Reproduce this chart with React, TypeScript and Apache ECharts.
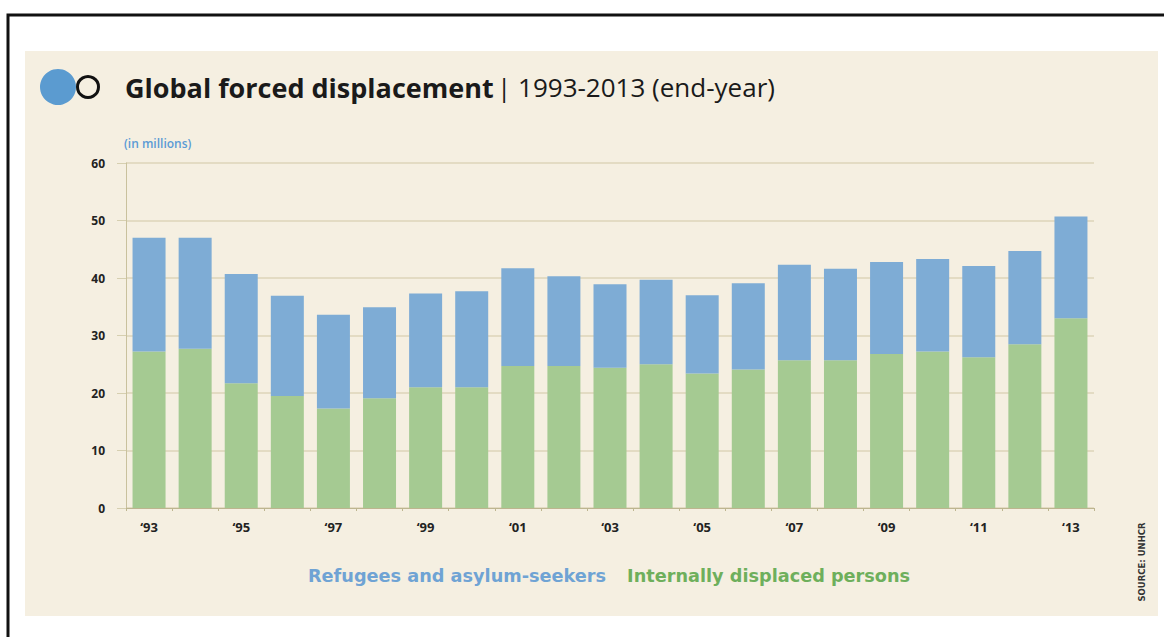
import React, { useEffect, useRef } from "react";
import * as echarts from "echarts";

const years = ["‘93", "‘94", "‘95", "‘96", "‘97", "‘98", "‘99", "‘00", "‘01", "‘02", "‘03", "‘04", "‘05", "‘06", "‘07", "‘08", "‘09", "‘10", "‘11", "‘12", "‘13"];
const idps = [27.2, 27.7, 21.7, 19.5, 17.3, 19.1, 21.0, 21.0, 24.7, 24.7, 24.4, 25.0, 23.4, 24.1, 25.7, 25.7, 26.8, 27.2, 26.2, 28.5, 33.0];
const refugees = [19.8, 19.3, 19.0, 17.4, 16.3, 15.8, 16.3, 16.7, 17.0, 15.6, 14.5, 14.7, 13.6, 15.0, 16.6, 15.9, 16.0, 16.1, 15.9, 16.2, 17.7];
const yTicks = { min: 0, max: 60, interval: 10 };

const BLUE = "#7eacd5";
const GREEN = "#a5ca92";
const FONT = "'Open Sans', 'Noto Sans', sans-serif";
const WIDE = "'DejaVu Sans', sans-serif";

export default function App() {
  const ref = useRef<HTMLDivElement>(null);
  useEffect(() => {
    if (!ref.current) return;
    const chart = echarts.init(ref.current, null, { renderer: "svg" });
    chart.setOption({
      animation: false,
      backgroundColor: "#ffffff",
      graphic: [
        { type: "rect", shape: { x: 8, y: 15, width: 1164, height: 640 }, style: { fill: "#ffffff", stroke: "#111", lineWidth: 3 }, z: -10 },
        { type: "rect", shape: { x: 25, y: 51, width: 1133, height: 565 }, style: { fill: "#f5efe1" }, z: -9 },
        { type: "circle", shape: { cx: 88, cy: 87, r: 10.5 }, style: { fill: "none", stroke: "#111", lineWidth: 3 }, z: 5 },
        { type: "circle", shape: { cx: 58, cy: 87, r: 18 }, style: { fill: "#5b9bd0" }, z: 6 },
        {
          type: "text", x: 125, y: 87, z: 5,
          style: {
            text: "{b|Global forced displacement} {r|| 1993-2013 (end-year)}",
            verticalAlign: "middle",
            rich: {
              b: { fontFamily: FONT, fontWeight: "bold", fontSize: 27, fill: "#1a1a1a" },
              r: { fontFamily: FONT, fontWeight: "normal", fontSize: 26, fill: "#1a1a1a" },
            },
          },
        },
        { type: "text", x: 124, y: 143, z: 5, style: { text: "(in millions)", fontFamily: FONT, fontWeight: 600, fontSize: 12, fill: "#5b9bd5", verticalAlign: "middle" } },
        {
          type: "text", x: 1142, y: 562, rotation: Math.PI / 2, z: 5,
          style: { text: "SOURCE: UNHCR", fontFamily: WIDE, fontWeight: "bold", fontSize: 8.5, fill: "#333", align: "center", verticalAlign: "middle" },
        },
      ],
      legend: {
        left: 298,
        top: 562,
        icon: "rect",
        itemWidth: 0,
        itemHeight: 0,
        itemGap: 16,
        selectedMode: false,
        data: [
          { name: "Refugees and asylum-seekers", textStyle: { color: "#6fa3d4" } },
          { name: "Internally displaced persons", textStyle: { color: "#6eaf5c" } },
        ],
        textStyle: { fontFamily: WIDE, fontWeight: "bold", fontSize: 17.7 },
      },
      grid: { left: 126, right: 70, top: 163, bottom: 129, containLabel: false },
      xAxis: {
        type: "category",
        data: years,
        axisLine: { lineStyle: { color: "#bdb58f", width: 1 } },
        axisTick: { show: true, length: 3, interval: 0, lineStyle: { color: "#bdb58f" } },
        axisLabel: { interval: 1, margin: 12, fontFamily: FONT, fontWeight: "bold", fontSize: 13, color: "#222" },
      },
      yAxis: {
        type: "value",
        min: yTicks.min,
        max: yTicks.max,
        interval: yTicks.interval,
        axisLine: { show: true, lineStyle: { color: "#c9c19d", width: 1 } },
        axisTick: { show: true, inside: false, length: 9, lineStyle: { color: "#d6cfb0" } },
        splitLine: { show: true, lineStyle: { color: "#dcd5b8", width: 1.5 } },
        axisLabel: { margin: 21, fontFamily: FONT, fontWeight: "bold", fontSize: 12, color: "#222" },
      },
      series: [
        { name: "Internally displaced persons", type: "bar", stack: "total", data: idps, barWidth: 33, itemStyle: { color: GREEN } },
        { name: "Refugees and asylum-seekers", type: "bar", stack: "total", data: refugees, barWidth: 33, itemStyle: { color: BLUE } },
      ],
    });
    return () => chart.dispose();
  }, []);
  return <div ref={ref} style={{ position: "fixed", left: 0, top: 0, width: 1164, height: 637 }} />;
}
